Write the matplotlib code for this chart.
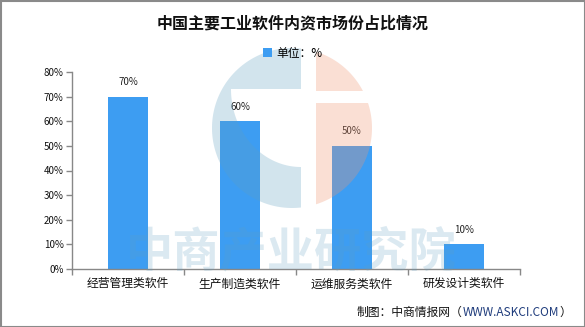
import numpy as np
import matplotlib
matplotlib.use('Agg')
import matplotlib.pyplot as plt
from matplotlib.patches import Polygon, Rectangle
from matplotlib.transforms import Affine2D
from matplotlib.ticker import FixedLocator, FuncFormatter

plt.rcParams['font.family'] = ['Noto Sans CJK SC', 'DejaVu Sans']

title = '中国主要工业软件内资市场份占比情况'
categories = ['经营管理类软件', '生产制造类软件', '运维服务类软件', '研发设计类软件']
shares = [70, 60, 50, 10]
legend_label = '单位：%'

W, H = 585, 327
fig = plt.figure(figsize=(W / 100, H / 100), dpi=100)
fig.patch.set_facecolor('white')

# pixel coords (origin top-left) -> figure
px = Affine2D().scale(1 / 100).scale(1, -1).translate(0, H / 100) + fig.dpi_scale_trans

ax = fig.add_axes([72 / W, (H - 269) / H, (520 - 72) / W, (269 - 72) / H])
ax.set_facecolor('none')

x = np.arange(len(categories))
bars = ax.bar(x, shares, width=0.36, color='#3d9df2', label=legend_label, zorder=2)
for xi, v in zip(x, shares):
    ax.annotate(f'{v}%', (xi, v), xytext=(0, 10.5), textcoords='offset points',
                ha='center', va='center', fontsize=7, color='#222222')

ax.set_xlim(-0.5, len(categories) - 0.5)
ax.set_ylim(0, 80)
ax.yaxis.set_major_locator(FixedLocator(np.arange(0, 81, 10)))
ax.yaxis.set_major_formatter(FuncFormatter(lambda v, p: f'{int(v)}%'))
ax.xaxis.set_major_locator(FixedLocator(np.arange(-0.5, len(categories), 1)))
ax.xaxis.set_major_formatter(FuncFormatter(lambda v, p: ''))
ax.xaxis.set_minor_locator(FixedLocator(x))
ax.set_xticklabels(categories, minor=True)
ax.tick_params(axis='x', which='major', length=4, color='#888888', width=1)
ax.tick_params(axis='x', which='minor', length=0, pad=6, labelsize=8.5, labelcolor='#111111')
ax.tick_params(axis='y', length=4, color='#888888', width=1, pad=2, labelsize=7, labelcolor='#111111')
for s in ['top', 'right']:
    ax.spines[s].set_visible(False)
for s in ['left', 'bottom']:
    ax.spines[s].set_color('#888888')
    ax.spines[s].set_linewidth(1)

# logo watermark (pixel space, y grows downward)
cx, cy, r = 292, 128, 80

def arc(a0, a1, n=200):
    a = np.linspace(a0, a1, n)
    return np.column_stack([cx + r * np.cos(a), cy + r * np.sin(a)])

# blue "C"
dy = np.sqrt(r**2 - 9**2)
a_top = np.arctan2(-dy, 9)
a_bot = np.arctan2(dy, 9)
outer = arc(a_top, a_bot - 2 * np.pi)
ha = np.linspace(np.pi / 2, np.pi, 100)
hole = np.column_stack([301 + 70 * np.cos(ha), 89 + 78 * np.sin(ha)])
c_pts = np.vstack([outer, [[301, 167]], hole, [[231, 89], [301, 89]]])
fig.add_artist(Polygon(c_pts, closed=True, transform=px, facecolor='#5f9ec0',
                       alpha=0.28, edgecolor='none', zorder=5))

# peach right half, split by a white band
a1 = np.arctan2(-(cy - 51.7), 316 - cx)
a2 = np.arctan2(91 - cy, np.sqrt(r**2 - (cy - 91)**2))
top = np.vstack([arc(a1, a2), [[316, 91]]])
a3 = np.arctan2(103 - cy, np.sqrt(r**2 - (cy - 103)**2))
a4 = np.arctan2(204.3 - cy, 316 - cx)
bot = np.vstack([[[316, 103]], arc(a3, a4)])
for pts in (top, bot):
    fig.add_artist(Polygon(pts, closed=True, transform=px, facecolor='#f09673',
                           alpha=0.3, edgecolor='none', zorder=5))

fig.text(291 / W, 1 - 252 / H, '中商产业研究院', ha='center', va='center',
         fontsize=34, fontweight='bold', color='#5f9ec0', alpha=0.22, zorder=6)

fig.text(0.5, 1 - 23 / H, title, ha='center', va='center', fontsize=11.5,
         fontweight='bold', color='#111111')
fig.legend(handles=[bars], labels=[legend_label], loc='center',
           bbox_to_anchor=(0.5, 1 - 53 / H), frameon=False, fontsize=8.5,
           handlelength=0.8, handleheight=0.8, handletextpad=0.3)

t1 = fig.text(357 / W, 1 - 312 / H, '制图：中商情报网（', ha='left', va='center',
              fontsize=8.5, color='#111111')
t2 = ax.annotate('WWW.ASKCI.COM', xy=(1, 0), xycoords=t1, ha='left', va='bottom',
                 fontsize=8.5, color='#1f3c7c', annotation_clip=False)
ax.annotate('）', xy=(1, 0), xycoords=t2, ha='left', va='bottom',
            fontsize=8.5, color='#111111', annotation_clip=False)

fig.add_artist(Rectangle((0.5, 0.5), W - 1, H - 1, transform=px, fill=False,
                         edgecolor='#8a8a8a', linewidth=1.5))

fig.savefig('out.png', dpi=100)
